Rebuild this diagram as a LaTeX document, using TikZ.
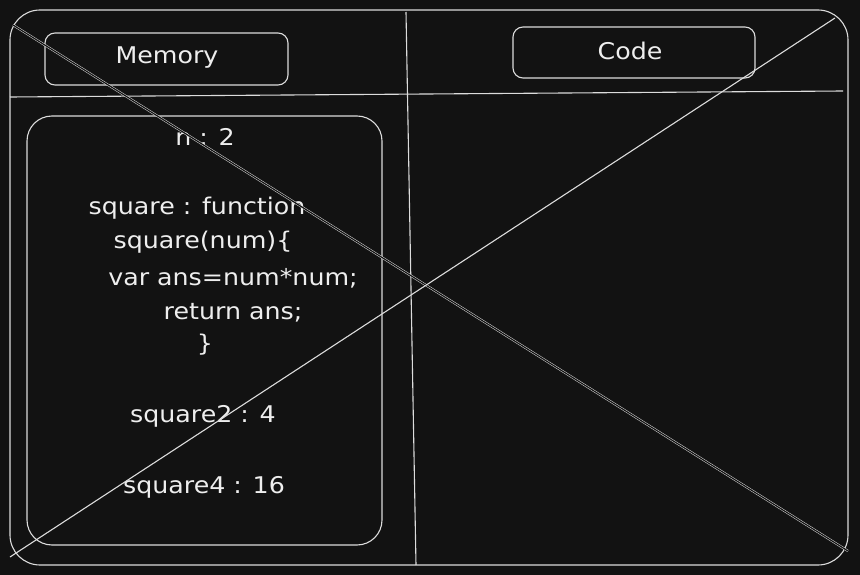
\documentclass[tikz,border=0pt]{standalone}
\usepackage{fontspec}
\setmainfont{DejaVu Sans}[FakeStretch=1.1]
\definecolor{bg}{HTML}{121212}
\definecolor{ink}{HTML}{DCDCDC}
\definecolor{txt}{HTML}{EEEEEE}
\begin{document}
\begin{tikzpicture}[x=1pt,y=-1pt,
  stroke/.style={draw=ink, line width=1.1pt},
  headbox/.style={stroke, rectangle, rounded corners=10pt, inner sep=0pt},
  membox/.style={stroke, rectangle, rounded corners=25pt, inner sep=0pt},
  lbl/.style={text=txt, font=\fontsize{23}{26}\selectfont, inner sep=0pt, anchor=center},
  crossline/.style={draw=ink, line width=0.5pt, double=bg, double distance=1.2pt},
  crossline2/.style={draw=ink, line width=1.1pt}
]
\fill[bg] (0,0) rectangle (860,575);
\useasboundingbox (0,0) rectangle (860,575);

% outer frame and dividers
\draw[stroke, rounded corners=30pt] (10,10) rectangle (848,565);
\coordinate (vtop) at (406,12);
\coordinate (vbot) at (416,565);
\coordinate (hleft) at (10,97);
\coordinate (hright) at (843,91);
\draw[stroke] (vtop) -- (vbot);
\draw[stroke] (hleft) -- (hright);

% headers
\node[headbox, minimum width=243pt, minimum height=52pt] (membox) at (166.5,59) {};
\node[lbl] (memlbl) at (167,58) {Memory};
\node[headbox, minimum width=242pt, minimum height=51pt] (codebox) at (634,52.5) {};
\node[lbl] (codelbl) at (630,51) {Code};

% memory contents
\node[membox, minimum width=355pt, minimum height=429pt] (inner) at (204.5,330.5) {};
\node[lbl] (n) at (205,137) {n : 2};
\node[lbl] (sq1) at (197,208) {square : function};
\node[lbl] (sq2) at (203,242) {square(num)\{};
\node[lbl] (sq3) at (233,278) {var ans=num*num;};
\node[lbl] (sq4) at (233,313) {return ans;};
\node[lbl] (sq5) at (205,345) {\}};
\node[lbl] (s2) at (203,416) {square2 : 4};
\node[lbl] (s4) at (204,487) {square4 : 16};

% cross lines
\coordinate (c1a) at (13,25);
\coordinate (c1b) at (848,551);
\coordinate (c2a) at (10,557);
\coordinate (c2b) at (835,18);
\draw[crossline] (c1a) -- (c1b);
\draw[crossline2] (c2a) -- (c2b);
\end{tikzpicture}
\end{document}
